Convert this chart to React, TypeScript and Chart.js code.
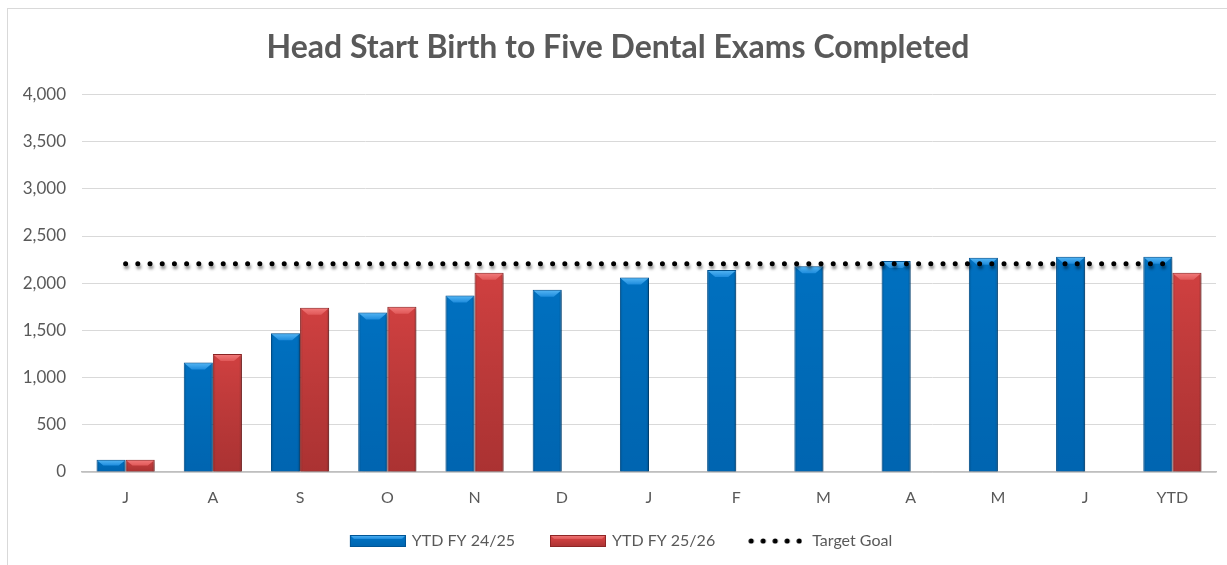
import React, { useEffect, useRef } from 'react';
import { Chart, registerables } from 'chart.js';

Chart.register(...registerables);

// ---- Data ----
const categories = ['J', 'A', 'S', 'O', 'N', 'D', 'J', 'F', 'M', 'A', 'M', 'J', 'YTD'];
const ytdFY2425 = [130, 1160, 1470, 1690, 1870, 1930, 2060, 2140, 2180, 2235, 2270, 2280, 2280];
const ytdFY2526 = [130, 1250, 1740, 1750, 2110, null, null, null, null, null, null, null, 2110];
const targetGoal = [2205, 2205, 2205, 2205, 2205, 2205, 2205, 2205, 2205, 2205, 2205, 2205, 2205];
const seriesLabels = ['YTD FY 24/25', 'YTD FY 25/26', 'Target Goal'];
const titleText = 'Head Start Birth to Five Dental Exams Completed';
const yMin = 0;
const yMax = 4000;
const yStep = 500;

const FONT = 'Lato, "Open Sans", sans-serif';
const TEXT = '#595959';

type BevelStyle = { base: string; edge: string; lightTop: string; lightBottom: string; shade: string };
const bevelStyles: BevelStyle[] = [
  { base: '#0070C0', edge: '#005596', lightTop: '#58B8F5', lightBottom: '#1E8CDD', shade: 'rgba(0,0,40,0.10)' },
  { base: '#D04040', edge: '#8E2626', lightTop: '#F27C7C', lightBottom: '#E05858', shade: 'rgba(40,0,0,0.22)' },
];

function makeBarSwatch(s: BevelStyle): HTMLCanvasElement {
  const W = 64;
  const H = 12;
  const c = document.createElement('canvas');
  c.width = W;
  c.height = H;
  const g = c.getContext('2d')!;
  const l = 8;
  const r = W;
  g.fillStyle = s.base;
  g.fillRect(l, 0, r - l, H);
  const grad = g.createLinearGradient(0, 0, 0, 4);
  grad.addColorStop(0, s.lightTop);
  grad.addColorStop(1, s.lightBottom);
  g.fillStyle = grad;
  g.beginPath();
  g.moveTo(l, 0);
  g.lineTo(r, 0);
  g.lineTo(r - 4, 4);
  g.lineTo(l + 4, 4);
  g.closePath();
  g.fill();
  const sh = g.createLinearGradient(0, 4, 0, H);
  sh.addColorStop(0, 'rgba(0,0,0,0)');
  sh.addColorStop(1, s.shade);
  g.fillStyle = sh;
  g.fillRect(l, 4, r - l, H - 4);
  g.strokeStyle = s.edge;
  g.lineWidth = 1;
  g.strokeRect(l + 0.5, 0.5, r - l - 1, H - 1);
  return c;
}

function makeDotSwatch(): HTMLCanvasElement {
  const c = document.createElement('canvas');
  c.width = 56;
  c.height = 8;
  const g = c.getContext('2d')!;
  g.fillStyle = '#000';
  for (let i = 0; i < 5; i++) {
    g.beginPath();
    g.arc(5 + i * 12, 4, 2.6, 0, Math.PI * 2);
    g.fill();
  }
  return c;
}

const bevelPlugin = {
  id: 'bevelShadow',
  beforeDatasetDraw(chart: any, args: any) {
    const ctx = chart.ctx;
    ctx.save();
    if (args.meta.type === 'bar') {
      ctx.shadowColor = 'rgba(0,0,0,0.35)';
      ctx.shadowBlur = 4;
      ctx.shadowOffsetX = 1.5;
      ctx.shadowOffsetY = 1.5;
    } else {
      ctx.shadowColor = 'rgba(0,0,0,0.45)';
      ctx.shadowBlur = 3;
      ctx.shadowOffsetX = 1;
      ctx.shadowOffsetY = 3;
    }
  },
  afterDatasetDraw(chart: any, args: any) {
    const ctx = chart.ctx;
    ctx.restore();
    if (args.meta.type !== 'bar') return;
    const s = bevelStyles[args.index];
    const values = chart.data.datasets[args.index].data;
    args.meta.data.forEach((el: any, i: number) => {
      if (values[i] == null) return;
      const { x, y, base, width } = el.getProps(['x', 'y', 'base', 'width'], true);
      const left = x - width / 2;
      const right = x + width / 2;
      const top = Math.min(y, base);
      const bottom = Math.max(y, base);
      const h = bottom - top;
      const b = Math.min(7, h / 2);
      ctx.save();
      const sh = ctx.createLinearGradient(0, top, 0, bottom);
      sh.addColorStop(0, 'rgba(0,0,0,0)');
      sh.addColorStop(1, s.shade);
      ctx.fillStyle = sh;
      ctx.fillRect(left + 1, top + 1, width - 2, h - 1);
      const side = ctx.createLinearGradient(left, 0, right, 0);
      side.addColorStop(0, 'rgba(0,0,0,0.18)');
      side.addColorStop(0.1, 'rgba(0,0,0,0)');
      side.addColorStop(0.9, 'rgba(0,0,0,0)');
      side.addColorStop(1, 'rgba(0,0,0,0.22)');
      ctx.fillStyle = side;
      ctx.fillRect(left + 1, top + 1, width - 2, h - 1);
      const g = ctx.createLinearGradient(0, top, 0, top + b);
      g.addColorStop(0, s.lightTop);
      g.addColorStop(1, s.lightBottom);
      ctx.fillStyle = g;
      ctx.beginPath();
      ctx.moveTo(left + 1, top + 1);
      ctx.lineTo(right - 1, top + 1);
      ctx.lineTo(right - 1 - b, top + b);
      ctx.lineTo(left + 1 + b, top + b);
      ctx.closePath();
      ctx.fill();
      ctx.restore();
    });
  },
};

export default function App() {
  const canvasRef = useRef<HTMLCanvasElement | null>(null);

  useEffect(() => {
    document.documentElement.style.overflow = 'hidden';
    const canvas = canvasRef.current;
    if (!canvas) return;
    const swatches = [makeBarSwatch(bevelStyles[0]), makeBarSwatch(bevelStyles[1]), makeDotSwatch()];

    const chart = new Chart(canvas, {
      type: 'bar',
      data: {
        labels: categories,
        datasets: [
          {
            type: 'bar',
            label: seriesLabels[0],
            data: ytdFY2425,
            backgroundColor: bevelStyles[0].base,
            borderColor: bevelStyles[0].edge,
            borderWidth: 1,
            barPercentage: 1,
            categoryPercentage: 0.667,
            order: 1,
          },
          {
            type: 'bar',
            label: seriesLabels[1],
            data: ytdFY2526,
            backgroundColor: bevelStyles[1].base,
            borderColor: bevelStyles[1].edge,
            borderWidth: 1,
            barPercentage: 1,
            categoryPercentage: 0.667,
            order: 2,
          },
          {
            type: 'line',
            label: seriesLabels[2],
            data: targetGoal,
            borderColor: '#000000',
            borderWidth: 5,
            borderDash: [0, 12.2],
            borderCapStyle: 'round',
            pointRadius: 0,
            pointHoverRadius: 0,
            fill: false,
            tension: 0,
            order: 0,
          },
        ] as any,
      },
      options: {
        responsive: false,
        animation: false,
        locale: 'en-US',
        events: [],
        layout: { padding: { left: 12, right: 11, top: 0, bottom: 6 } },
        plugins: {
          title: {
            display: true,
            text: titleText,
            color: TEXT,
            font: { family: FONT, size: 32, weight: 'bold' },
            padding: { top: 19, bottom: 28 },
          },
          legend: {
            position: 'bottom',
            labels: {
              usePointStyle: true,
              pointStyleWidth: 60,
              padding: 29,
              color: TEXT,
              font: { family: FONT, size: 16 },
              generateLabels: () =>
                seriesLabels.map((text, i) => ({
                  text,
                  datasetIndex: i,
                  pointStyle: swatches[i] as any,
                  fillStyle: 'transparent',
                  strokeStyle: 'transparent',
                  lineWidth: 0,
                  hidden: false,
                  fontColor: TEXT,
                })),
            },
          },
          tooltip: { enabled: false },
        },
        scales: {
          x: {
            grid: { display: false, drawTicks: false },
            border: { display: true, color: '#BFBFBF', width: 1.5 },
            ticks: { color: TEXT, font: { family: FONT, size: 16 }, padding: 16 },
            afterFit: (s: any) => {
              s.height = 32;
            },
          },
          y: {
            min: yMin,
            max: yMax,
            ticks: {
              stepSize: yStep,
              color: TEXT,
              font: { family: FONT, size: 17 },
              padding: 16,
              callback: (v: any) => Number(v).toLocaleString('en-US'),
            },
            grid: { color: '#D9D9D9', lineWidth: 1, drawTicks: false },
            border: { display: false },
            afterFit: (s: any) => {
              s.width = 62;
            },
          },
        },
      } as any,
      plugins: [bevelPlugin],
    });

    return () => {
      chart.destroy();
    };
  }, []);

  return (
    <div
      style={{
        position: 'absolute',
        left: 7,
        top: 8,
        width: 1219,
        height: 556,
        borderLeft: '1px solid #D9D9D9',
        borderTop: '1px solid #D9D9D9',
        background: '#fff',
      }}
    >
      <canvas ref={canvasRef} width={1219} height={556} style={{ display: 'block', width: 1219, height: 556 }} />
    </div>
  );
}
